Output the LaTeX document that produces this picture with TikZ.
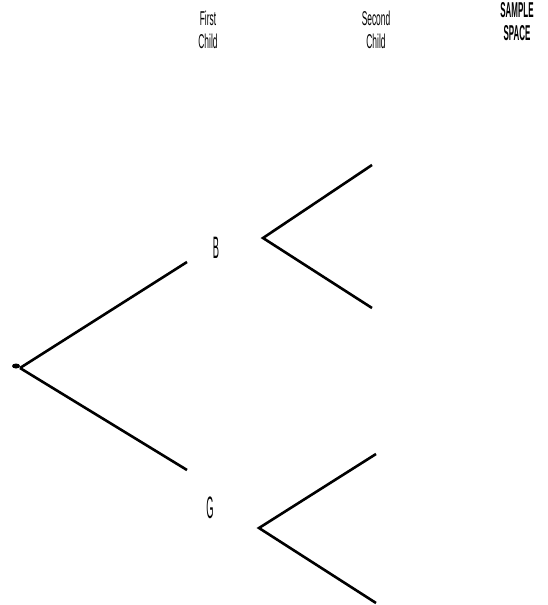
\documentclass[tikz,border=0pt]{standalone}
\usepackage{fontspec}
\setmainfont{Liberation Sans}
\newfontfamily\narrowfont[FakeStretch=0.42]{Liberation Sans}
\newfontfamily\headfont[FakeStretch=0.37]{Liberation Sans}
\newfontfamily\tallfont[FakeStretch=0.3]{Liberation Sans}
\begin{document}
\begin{tikzpicture}[
    x=1pt, y=-1pt,
    lbl/.style={font=\tallfont\fontsize{31}{33}\selectfont, inner sep=0pt},
    head/.style={font=\narrowfont\fontsize{20}{23}\selectfont, inner sep=0pt,
                 align=center},
    branch/.style={line width=2.6pt, line cap=butt}
]
  \useasboundingbox (0,0) rectangle (547,605);

  % Headings
  \node[head] (first) at (208,30) {First\\Child};
  \node[head] (second) at (376,30) {Second\\Child};
  \node[head, font=\headfont\bfseries\fontsize{21.5}{23}\selectfont]
       (space) at (517,21.5) {SAMPLE\\SPACE};

  % Root
  \coordinate (root) at (20,368);
  \fill (16,366) ellipse (4pt and 2.5pt);

  % First child
  \node[lbl] (B) at (216,248) {B};
  \node[lbl] (G) at (210,508) {G};
  \coordinate (Bin) at (187,262);
  \coordinate (Gin) at (187,470);
  \draw[branch] (root) -- (Bin);
  \draw[branch] (root) -- (Gin);

  % Second child
  \coordinate (Bout) at (263,238);
  \coordinate (BB) at (372,165);
  \coordinate (BG) at (372,308);
  \draw[branch] (BB) -- (Bout) -- (BG);

  \coordinate (Gout) at (259,528);
  \coordinate (GB) at (376,454);
  \coordinate (GG) at (376,603);
  \draw[branch] (GB) -- (Gout) -- (GG);
\end{tikzpicture}
\end{document}
